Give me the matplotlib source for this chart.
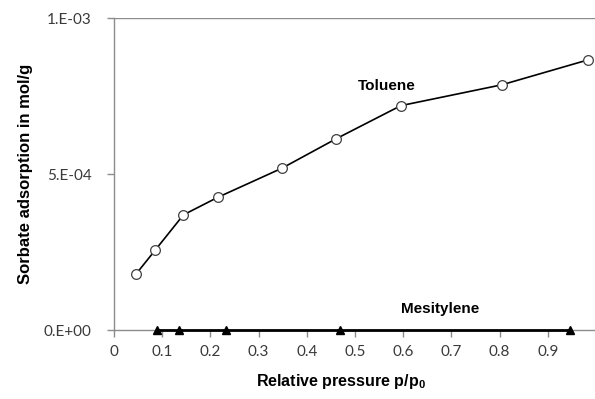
import numpy as np
import matplotlib.pyplot as plt

# Toluene isotherm
tol_p = [0.045, 0.086, 0.144, 0.215, 0.349, 0.461, 0.595, 0.805, 0.984]
tol_q = [1.78e-4, 2.57e-4, 3.69e-4, 4.25e-4, 5.19e-4, 6.13e-4, 7.19e-4, 7.86e-4, 8.66e-4]

# Mesitylene isotherm (no uptake)
mes_p = [0.089, 0.134, 0.232, 0.468, 0.946]
mes_q = [0.0, 0.0, 0.0, 0.0, 0.0]

xticks = [0, 0.1, 0.2, 0.3, 0.4, 0.5, 0.6, 0.7, 0.8, 0.9]
xtick_labels = ["0", "0.1", "0.2", "0.3", "0.4", "0.5", "0.6", "0.7", "0.8", "0.9"]
yticks = [0.0, 5e-4, 1e-3]
ytick_labels = ["0.E+00", "5.E-04", "1.E-03"]

fig = plt.figure(figsize=(5.95, 3.99), dpi=100)
ax = fig.add_axes([114 / 595, 69 / 399, 482 / 595, 312 / 399])

grey = "#8c8c8c"
ax.axhline(1e-3, color=grey, linewidth=1.0, zorder=1)

ax.plot(mes_p, mes_q, color="black", linewidth=2.0, marker="^", markersize=6,
        markerfacecolor="black", markeredgecolor="black", zorder=3, clip_on=False)
ax.plot(tol_p, tol_q, color="black", linewidth=1.2, marker="o", markersize=7,
        markerfacecolor="white", markeredgecolor="#404040", markeredgewidth=0.9,
        zorder=3, clip_on=False)

ax.text(0.565, 7.82e-4, "Toluene", fontsize=11, fontweight="bold",
        family="Liberation Sans", ha="center", va="center")
ax.text(0.676, 0.67e-4, "Mesitylene", fontsize=11, fontweight="bold",
        family="Liberation Sans", ha="center", va="center")

ax.set_xlim(0, 1.0)
ax.set_ylim(0, 1e-3)
ax.set_xticks(xticks)
ax.set_xticklabels(xtick_labels)
ax.set_yticks(yticks)
ax.set_yticklabels(ytick_labels)

for spine in ["top", "right"]:
    ax.spines[spine].set_visible(False)
for spine in ["left", "bottom"]:
    ax.spines[spine].set_color(grey)
    ax.spines[spine].set_linewidth(1.0)

ax.tick_params(axis="both", colors=grey, length=5, width=1.0, labelcolor="#3a3a3a",
               labelsize=11, direction="out")
for lab in ax.get_xticklabels() + ax.get_yticklabels():
    lab.set_family("Lato")
ax.tick_params(axis="x", pad=6)
ax.tick_params(axis="y", pad=11)

ax.set_xlabel("Relative pressure p/p$_\\mathregular{0}$", fontsize=11.5, fontweight="bold",
              family="Liberation Sans")
ax.set_ylabel("Sorbate adsorption in mol/g", fontsize=12, fontweight="bold",
              family="Liberation Sans")
ax.xaxis.set_label_coords(0.47, -0.135)
ax.yaxis.set_label_coords(-0.168, 0.5)

fig.savefig("out.png", dpi=100)
